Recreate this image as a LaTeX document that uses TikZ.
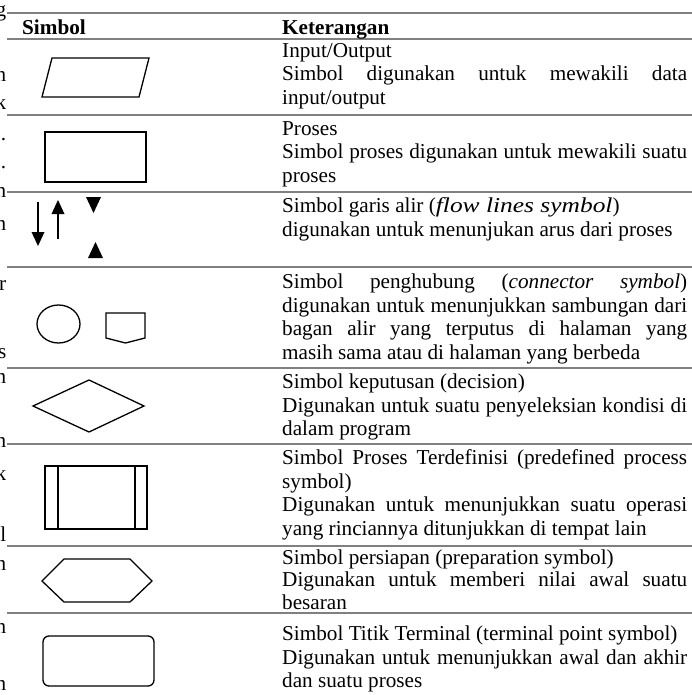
\documentclass[tikz,border=0pt]{standalone}
\usepackage{fontspec}
\setmainfont{Liberation Serif}
\begin{document}
\begin{tikzpicture}[x=1pt,y=-1pt,
  rule/.style={draw=black!50,line width=1.8pt},
  sym/.style={draw=black,line width=1.3pt,line join=miter},
  head/.style={fill=black},
  desc/.style={anchor=base west,inner sep=0pt,text width=405pt,align=justify,
    font=\fontsize{21.2}{23.5}\selectfont},
  hdr/.style={anchor=base west,inner sep=0pt,font=\fontsize{21.2}{23.5}\selectfont\bfseries},
  frag/.style={anchor=base east,inner sep=0pt,font=\fontsize{21.2}{23.5}\selectfont}]
\useasboundingbox (0,0) rectangle (692,695);

% clipped ends of the neighbouring column
\begin{scope}
  \clip (0,0) rectangle (6,695);
  \foreach \t/\yy [count=\i] in {g/17,n/82,k/110,./141,./168,n/197,n/230,r/290,s/358,n/383,n/447,k/480,l/541,n/570,n/633,n/690}
    \node[frag] (f\i) at (6.5,\yy) {\t};
\end{scope}

% horizontal rules of the table
\foreach \yy in {13,39,115,192,267,368,444,546,613}
  \draw[rule] (7,\yy) -- (692,\yy);

% header
\node[hdr] (hsym) at (22,35) {Simbol};
\node[hdr] (hket) at (282,35) {Keterangan};

% descriptions
\node[desc] (d1) at (282,57.5) {Input/Output\\Simbol digunakan untuk mewakili data\linebreak input/output};
\node[desc] (d2) at (282,135.5) {Proses\\Simbol proses digunakan untuk mewakili suatu\linebreak proses};
\node[desc] (d3) at (282,212.5) {Simbol garis alir (\scalebox{1.2}[1]{\textit{flow lines symbol}})\\digunakan untuk menunjukan arus dari proses};
\node[desc] (d4) at (282,288.5) {Simbol penghubung (\textit{connector symbol})\linebreak digunakan untuk menunjukkan sambungan dari\linebreak bagan alir yang terputus di halaman yang\linebreak masih sama atau di halaman yang berbeda};
\node[desc] (d5) at (282,388.5) {Simbol keputusan (decision)\\Digunakan untuk suatu penyeleksian kondisi di\linebreak dalam program};
\node[desc] (d6) at (282,464.5) {Simbol Proses Terdefinisi (predefined process\linebreak symbol)\\Digunakan untuk menunjukkan suatu operasi\linebreak yang rinciannya ditunjukkan di tempat lain};
\node[desc,font=\fontsize{21.2}{22.5}\selectfont] (d7) at (282,564) {Simbol persiapan (preparation symbol)\\Digunakan untuk memberi nilai awal suatu\linebreak besaran};
\node[desc] (d8) at (282,640.5) {Simbol Titik Terminal (terminal point symbol)\\Digunakan untuk menunjukkan awal dan akhir\linebreak dan suatu proses};

% input/output
\draw[sym] (42,97) -- (52,58) -- (149,58) -- (139,97) -- cycle;
% process
\draw[sym] (45,132) rectangle (146,182);
% flow lines
\draw[line width=1.3pt] (38,202) -- (38,233);
\fill[head] (31.5,232) -- (44.5,232) -- (38,246) -- cycle;
\draw[line width=1.3pt] (58,239) -- (58,213);
\fill[head] (51.5,214) -- (64.5,214) -- (58,200) -- cycle;
\fill[head] (86,197) -- (101,197) -- (93.5,213) -- cycle;
\fill[head] (88,258) -- (103,258) -- (95.5,242) -- cycle;
% connectors
\draw[sym] (58.5,324) ellipse [x radius=21.5,y radius=19];
\draw[sym] (106,313) -- (145,313) -- (145,338) -- (125.5,343) -- (106,338) -- cycle;
% decision
\draw[sym] (33,406) -- (89,380) -- (144,406) -- (89,432) -- cycle;
% predefined process
\draw[sym] (45,466) rectangle (147,529);
\draw[sym] (58,466) -- (58,529) (135,466) -- (135,529);
% preparation
\draw[sym] (42,581) -- (64,559) -- (130,559) -- (152,581) -- (130,602) -- (64,602) -- cycle;
% terminal
\draw[sym,rounded corners=6pt] (43,636) rectangle (154,686);
\end{tikzpicture}
\end{document}
